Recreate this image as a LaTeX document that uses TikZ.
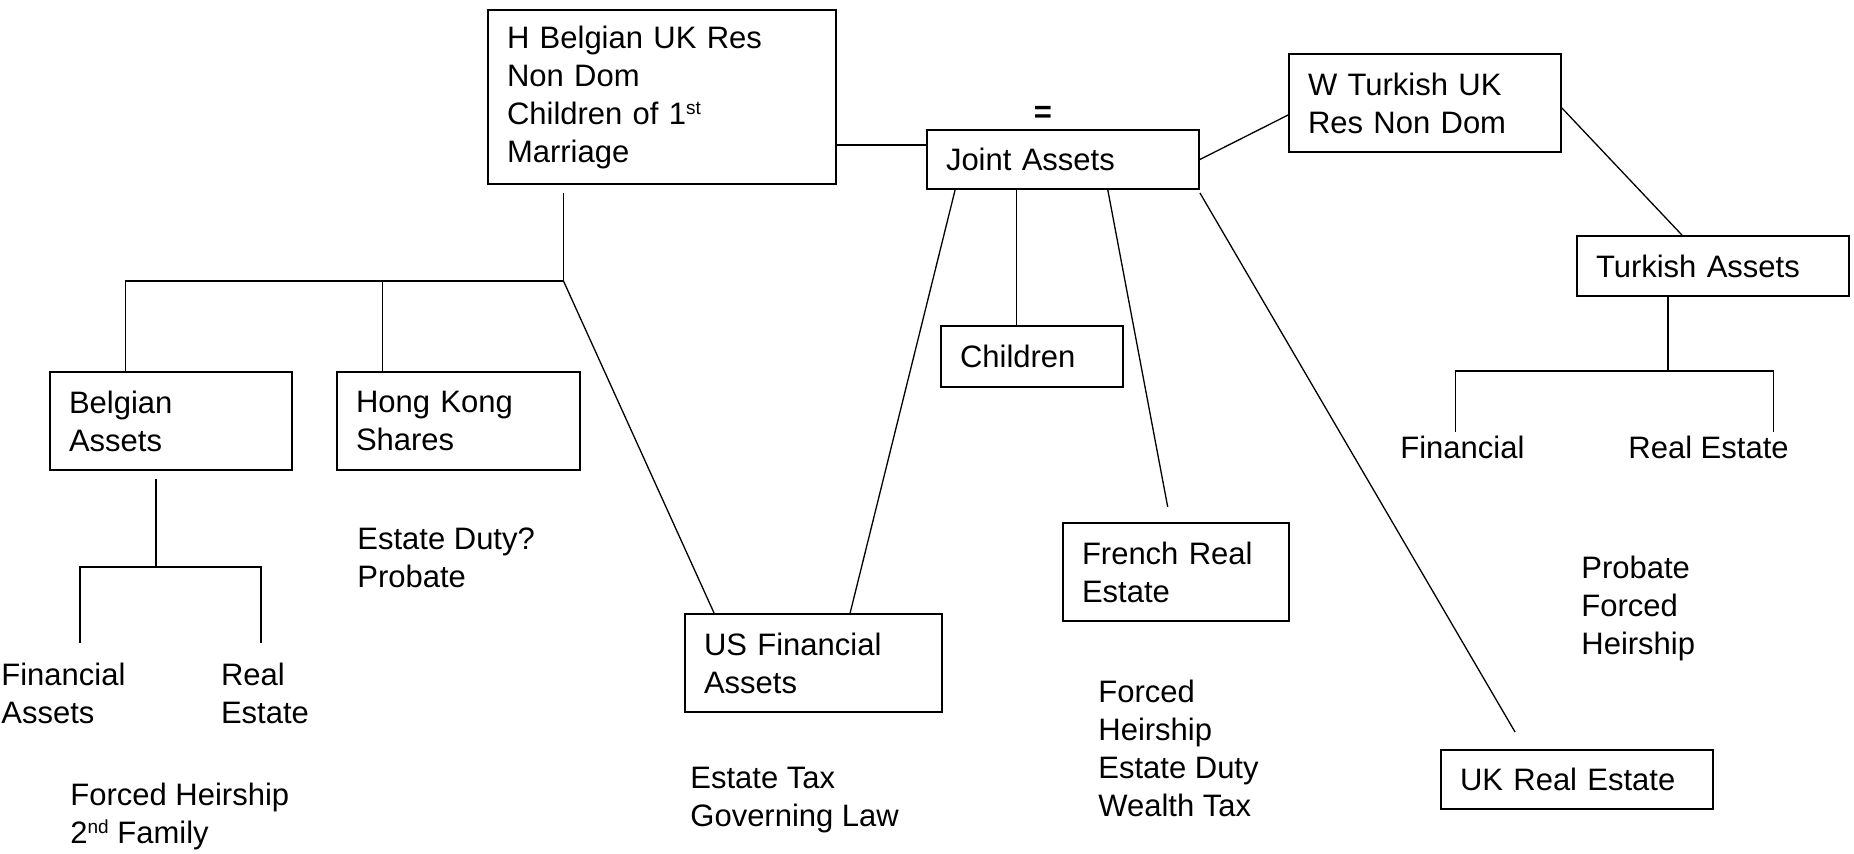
\documentclass[tikz,border=0pt]{standalone}
\usepackage{fontspec}
\setmainfont{Liberation Sans}
\usetikzlibrary{positioning, calc}

\newcommand{\supsmall}[1]{\raisebox{4.6pt}{\fontsize{9.5}{9.5}\selectfont #1}}

\tikzset{
  assetbox/.style={draw, line width=0.9pt, inner xsep=9.5pt, inner ysep=0pt, align=left},
  note/.style={inner sep=0pt, align=left, anchor=west},
  link/.style={line width=0.65pt}
}

\begin{document}
\begin{tikzpicture}[x=0.5pt, y=-0.5pt, font=\fontsize{15.5}{19}\selectfont]
  \useasboundingbox (0,0) rectangle (1854,853);

  % spouses and joint assets
  \node[assetbox, text width=155pt, minimum height=87pt] (hbox) at (662,97)
    {H Belgian UK Res\\Non Dom\\Children of 1\supsmall{st}\\Marriage};
  \node[assetbox, text width=117pt, minimum height=29.5pt] (joint) at (1063,159.5) {Joint Assets};
  \node[font=\fontsize{15.5}{19}\selectfont\bfseries, inner sep=0pt] (eq) at (1043,114) {=};
  \node[assetbox, text width=117pt, minimum height=49pt] (wbox) at (1425,103) {W Turkish UK\\Res Non Dom};

  % assets
  \node[assetbox, text width=102pt, minimum height=49pt] (belgian) at (171,421) {Belgian\\Assets};
  \node[assetbox, text width=102.5pt, minimum height=49pt] (hongkong) at (458.5,421) {Hong Kong\\Shares};
  \node[assetbox, text width=109.5pt, minimum height=49pt] (usfin) at (813.5,663) {US Financial\\Assets};
  \node[assetbox, text width=72pt, minimum height=30.5pt] (children) at (1032,356.5) {Children};
  \node[assetbox, text width=94pt, minimum height=49pt] (french) at (1176,572) {French Real\\Estate};
  \node[assetbox, text width=117pt, minimum height=29.5pt] (ukre) at (1577,779.5) {UK Real Estate};
  \node[assetbox, text width=117pt, minimum height=30pt] (turkish) at (1713,266) {Turkish Assets};

  % notes
  \node[note] (belfin) at (1,693) {Financial\\Assets};
  \node[note] (belre) at (220.6,693) {Real\\Estate};
  \node[note] (belnote) at (70,816) {Forced Heirship\\2\supsmall{nd} Family};
  \node[note] (hknote) at (357,558) {Estate Duty?\\Probate};
  \node[note] (usnote) at (690,800) {Estate Tax\\Governing Law};
  \node[note] (frnote) at (1098,748) {Forced\\Heirship\\Estate Duty\\Wealth Tax};
  \node[note] (trnote) at (1581,608) {Probate\\Forced\\Heirship};
  \node[note] (trfin) at (1400,447) {Financial};
  \node[note] (trre) at (1628,447) {Real Estate};

  % bend points
  \coordinate (hsplit) at (563.5,281);
  \coordinate (hleft) at (125.7,281);
  \coordinate (hmid) at (382.6,281);
  \coordinate (bsplit) at (156,567);
  \coordinate (bleft) at (80,567);
  \coordinate (bright) at (261,567);
  \coordinate (bleftend) at (80,643);
  \coordinate (brightend) at (261,643);
  \coordinate (tsplit) at (1668,371);
  \coordinate (tleft) at (1455.5,371);
  \coordinate (tright) at (1773.7,371);
  \coordinate (tleftend) at (1455.5,432);
  \coordinate (trightend) at (1773.7,432);

  % connectors
  \draw[link] (hbox.east |- 0,145) -- (joint.west |- 0,145);
  \draw[link] (joint.east) -- (wbox.west |- 0,115);
  \draw[link] ([yshift=-2.5pt]wbox.east) -- ([xshift=-15.5pt]turkish.north);

  \draw[link] (hsplit |- hbox.south) ++(0,8) -- (hsplit) -- (hleft) -- (hleft |- belgian.north);
  \draw[link] (hmid) -- (hmid |- hongkong.north);
  \draw[link] (hsplit) -- ([xshift=15pt]usfin.north west);

  \draw[link] ([xshift=14.5pt]joint.south west) -- ([xshift=83pt]usfin.north west);
  \draw[link] ([xshift=45.2pt]joint.south west) coordinate (jc) -- (jc |- children.north);
  \draw[link] ([xshift=90.85pt]joint.south west) -- ([shift={(-4.15pt,7.6pt)}]french.north);
  \draw[link] ([yshift=-1.5pt]joint.south east) -- ([shift={(37.5pt,8.5pt)}]ukre.north west);

  \draw[link] (bsplit |- belgian.south) ++(0,8) -- (bsplit);
  \draw[link] (bleftend) -- (bleft) -- (bright) -- (brightend);

  \draw[link] (tsplit |- turkish.south) -- (tsplit);
  \draw[link] (tleftend) -- (tleft) -- (tright) -- (trightend);
\end{tikzpicture}
\end{document}
